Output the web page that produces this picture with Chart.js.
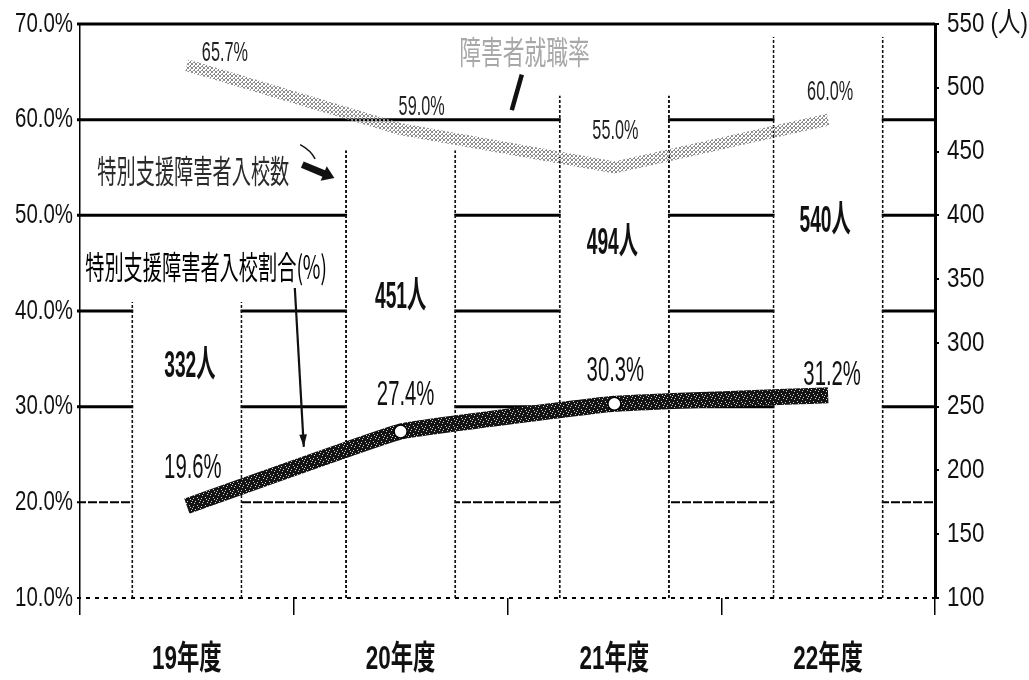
<!DOCTYPE html>
<html lang="ja">
<head>
<meta charset="utf-8">
<title>特別支援障害者入校数・入校割合</title>
<script src="https://cdn.jsdelivr.net/npm/chart.js@4.4.1/dist/chart.umd.min.js"></script>
<style>
  html, body { margin: 0; padding: 0; background: #fff; }
  #wrap { width: 1029px; height: 680px; position: relative; }
</style>
</head>
<body>
<div id="wrap"><canvas id="c"></canvas></div>
<script>
// ---- data ----
const categories = ['19年度', '20年度', '21年度', '22年度'];
const admissions = [332, 451, 494, 540];          // 特別支援障害者入校数（人）
const specialRate = [19.6, 27.4, 30.3, 31.2];     // 特別支援障害者入校割合（%）
const employmentRate = [65.7, 59.0, 55.0, 60.0];  // 障害者就職率（%）
const leftTicks = [10, 20, 30, 40, 50, 60, 70];
const rightTicks = [100, 150, 200, 250, 300, 350, 400, 450, 500, 550];

// ---- label placement (pixel offsets from each mark) ----
const barLabelShift = [[3, 65], [0, 148], [-2, 148], [-3, 185]];
const specialLabelShift = [[6, -38], [5, -36], [1, -32], [4, -20]];
const employmentLabelShift = [[38, -12], [21, -22], [1, -36], [2, -27]];

const SANS = '"Liberation Sans", "Noto Sans CJK JP", sans-serif';
const JP = '"Noto Sans CJK JP", "Liberation Sans", sans-serif';

function makePattern(w, h, bg, dots, dotColor) {
  const c = document.createElement('canvas');
  c.width = w; c.height = h;
  const g = c.getContext('2d');
  if (bg) { g.fillStyle = bg; g.fillRect(0, 0, w, h); }
  g.fillStyle = dotColor;
  dots.forEach(([x, y]) => g.fillRect(x, y, 1, 1));
  return g.createPattern(c, 'repeat');
}

// narrow lettering: text drawn with a horizontal squeeze
function condensedText(ctx, text, x, y, font, color, sx, align) {
  ctx.save();
  ctx.translate(x, y);
  ctx.scale(sx, 1);
  ctx.font = font;
  ctx.fillStyle = color;
  ctx.textAlign = align || 'center';
  ctx.textBaseline = 'middle';
  ctx.fillText(text, 0, 0);
  ctx.restore();
}

function build() {
  // grainy dark band for the admission-rate line
  const darkGrain = makePattern(8, 8, '#141414',
    [[1, 2], [5, 1], [3, 5], [7, 6], [6, 3], [2, 7], [0, 4]], '#d0d0d0');
  // light stipple for the employment-rate line
  const lightStipple = makePattern(4, 4, 'rgba(255,255,255,0)',
    [[0, 0], [2, 1], [1, 2], [3, 3], [0, 3], [2, 2], [3, 0]], '#8c8c8c');
  // dotted vertical edges of the bars
  const edgeDots = makePattern(2, 5, null, [[0, 0], [1, 0], [0, 1], [1, 1], [0, 2], [1, 2]], '#111');

  // horizontal rules of the percentage axis
  const hRules = {
    id: 'hRules',
    drawRule(chart, v) {
      const { ctx, chartArea, scales } = chart;
      const y = scales.y.getPixelForValue(v);
      ctx.save();
      ctx.strokeStyle = '#000';
      if (v >= 30) { ctx.lineWidth = 3; ctx.setLineDash([]); }
      else if (v === 20) { ctx.lineWidth = 2; ctx.setLineDash([9, 2]); }
      else { ctx.lineWidth = 2; ctx.setLineDash([4, 5]); }
      ctx.beginPath();
      ctx.moveTo(chartArea.left - 3, y);
      ctx.lineTo(chartArea.right, y);
      ctx.stroke();
      ctx.restore();
    },
    beforeDatasetsDraw(chart) {
      leftTicks.forEach(v => this.drawRule(chart, v));
    },
    afterDatasetsDraw(chart) {
      this.drawRule(chart, leftTicks[0]);
    }
  };

  // tick labels of all three axes, set in narrow lettering
  const axisLabels = {
    id: 'axisLabels',
    afterDraw(chart) {
      const { ctx, scales } = chart;
      const yl = scales.y, yr = scales.y1, xs = scales.x;
      yl.ticks.forEach(t => {
        condensedText(ctx, t.value.toFixed(1) + '%', yl.right - 7, yl.getPixelForValue(t.value),
          '28px ' + SANS, '#111', 0.73, 'right');
      });
      yr.ticks.forEach(t => {
        const last = t.value === rightTicks[rightTicks.length - 1];
        condensedText(ctx, last ? t.value + ' (人)' : String(t.value), yr.left + 12, yr.getPixelForValue(t.value),
          '28px ' + SANS, '#111', 0.8, 'left');
      });
      xs.ticks.forEach((t, i) => {
        condensedText(ctx, categories[i], xs.getPixelForTick(i), xs.top + 62,
          'bold 33px ' + SANS, '#111', 0.68, 'center');
      });
    }
  };

  // value labels and callouts
  const annotations = {
    id: 'annotations',
    afterDatasetsDraw(chart) {
      const { ctx, scales } = chart;
      const X = v => scales.x.getPixelForValue(v);
      const Y = v => scales.y.getPixelForValue(v);

      chart.getDatasetMeta(2).data.forEach((bar, i) => {
        condensedText(ctx, admissions[i] + '人', bar.x + barLabelShift[i][0], bar.y + barLabelShift[i][1],
          'bold 37px ' + SANS, '#111', 0.52);
      });
      chart.getDatasetMeta(0).data.forEach((pt, i) => {
        condensedText(ctx, specialRate[i].toFixed(1) + '%', pt.x + specialLabelShift[i][0], pt.y + specialLabelShift[i][1],
          '35px ' + SANS, '#111', 0.58);
      });
      chart.getDatasetMeta(1).data.forEach((pt, i) => {
        condensedText(ctx, employmentRate[i].toFixed(1) + '%', pt.x + employmentLabelShift[i][0], pt.y + employmentLabelShift[i][1],
          '28px ' + SANS, '#222', 0.58);
      });

      // series callouts
      condensedText(ctx, '特別支援障害者入校数', X(0.03), Y(54.7), '32px ' + JP, '#2a2a2a', 0.6);
      condensedText(ctx, '特別支援障害者入校割合(%)', X(0.09), Y(44.6), '32px ' + JP, '#000', 0.6);
      condensedText(ctx, '障害者就職率', X(1.58), Y(67.1), '32px ' + JP, '#a8a8a8', 0.68);

      ctx.save();
      ctx.strokeStyle = '#111';
      ctx.fillStyle = '#111';
      // bold arrow beside 特別支援障害者入校数
      let x1 = X(0.54), y1 = Y(55.3), x2 = X(0.69), y2 = Y(53.9);
      let a = Math.atan2(y2 - y1, x2 - x1);
      ctx.lineWidth = 7;
      ctx.beginPath(); ctx.moveTo(x1, y1); ctx.lineTo(x2 - 9 * Math.cos(a), y2 - 9 * Math.sin(a)); ctx.stroke();
      ctx.beginPath();
      ctx.moveTo(x2, y2);
      ctx.lineTo(x2 - 14 * Math.cos(a - 0.6), y2 - 14 * Math.sin(a - 0.6));
      ctx.lineTo(x2 - 14 * Math.cos(a + 0.6), y2 - 14 * Math.sin(a + 0.6));
      ctx.closePath(); ctx.fill();
      ctx.lineWidth = 1.5;
      ctx.beginPath(); ctx.moveTo(X(0.53), Y(57.4)); ctx.quadraticCurveTo(X(0.58), Y(56.8), X(0.6), Y(55.9)); ctx.stroke();

      // thin arrow from 特別支援障害者入校割合(%) down to the line
      x1 = X(0.505); y1 = Y(42.4); x2 = X(0.547); y2 = Y(25.8);
      a = Math.atan2(y2 - y1, x2 - x1);
      ctx.lineWidth = 2.2;
      ctx.beginPath(); ctx.moveTo(x1, y1); ctx.lineTo(x2, y2); ctx.stroke();
      ctx.beginPath();
      ctx.moveTo(x2, y2);
      ctx.lineTo(x2 - 13 * Math.cos(a - 0.3), y2 - 13 * Math.sin(a - 0.3));
      ctx.lineTo(x2 - 13 * Math.cos(a + 0.3), y2 - 13 * Math.sin(a + 0.3));
      ctx.closePath(); ctx.fill();

      // short pointer under 障害者就職率
      ctx.lineWidth = 4.5;
      ctx.beginPath(); ctx.moveTo(X(1.567), Y(64.7)); ctx.lineTo(X(1.52), Y(61.0)); ctx.stroke();
      ctx.restore();
    }
  };

  new Chart(document.getElementById('c'), {
    data: {
      labels: categories,
      datasets: [
        {
          type: 'line',
          label: '特別支援障害者入校割合(%)',
          data: specialRate,
          yAxisID: 'y',
          borderColor: darkGrain,
          borderWidth: 16,
          borderCapStyle: 'butt',
          borderJoinStyle: 'round',
          tension: 0.08,
          pointRadius: [0, 6.5, 6.5, 0],
          pointBackgroundColor: '#fff',
          pointBorderColor: '#000',
          pointBorderWidth: 1.5,
          order: 1
        },
        {
          type: 'line',
          label: '障害者就職率',
          data: employmentRate,
          yAxisID: 'y',
          borderColor: lightStipple,
          borderWidth: 12,
          borderCapStyle: 'butt',
          tension: 0,
          pointRadius: 0,
          order: 2
        },
        {
          type: 'bar',
          label: '特別支援障害者入校数',
          data: admissions,
          yAxisID: 'y1',
          backgroundColor: '#fff',
          borderColor: edgeDots,
          borderWidth: { left: 2, right: 2, top: 0, bottom: 0 },
          barPercentage: 0.52,
          categoryPercentage: 1,
          order: 3
        }
      ]
    },
    options: {
      responsive: true,
      maintainAspectRatio: false,
      devicePixelRatio: 1,
      animation: false,
      layout: { padding: { top: 24, left: 0, right: 0, bottom: 0 } },
      plugins: {
        legend: { display: false },
        tooltip: { enabled: false }
      },
      scales: {
        x: {
          offset: true,
          grid: {
            offset: true,
            drawOnChartArea: false,
            drawTicks: true,
            tickLength: 17,
            color: '#000',
            lineWidth: 1.5
          },
          border: { display: false },
          ticks: { display: false },
          afterFit(s) { s.height = 82; }
        },
        y: {
          position: 'left',
          min: leftTicks[0],
          max: leftTicks[leftTicks.length - 1],
          afterBuildTicks(s) { s.ticks = leftTicks.map(v => ({ value: v })); },
          grid: { drawOnChartArea: false, drawTicks: false },
          border: { display: true, color: '#000', width: 1.5 },
          ticks: { display: false },
          afterFit(s) { s.width = 80; }
        },
        y1: {
          position: 'right',
          min: rightTicks[0],
          max: rightTicks[rightTicks.length - 1],
          afterBuildTicks(s) { s.ticks = rightTicks.map(v => ({ value: v })); },
          grid: { drawOnChartArea: false, drawTicks: true, tickLength: 4, color: '#000', lineWidth: 2 },
          border: { display: true, color: '#000', width: 3 },
          ticks: { display: false },
          afterFit(s) { s.width = 94; }
        }
      }
    },
    plugins: [hRules, annotations, axisLabels]
  });
}

const fontReady = document.fonts && document.fonts.load
  ? Promise.all([
      document.fonts.load('28px "Liberation Sans"'),
      document.fonts.load('32px "Noto Sans CJK JP"'),
      document.fonts.load('bold 32px "Liberation Sans"')
    ]).catch(() => null)
  : Promise.resolve();
fontReady.then(build);
</script>
</body>
</html>
